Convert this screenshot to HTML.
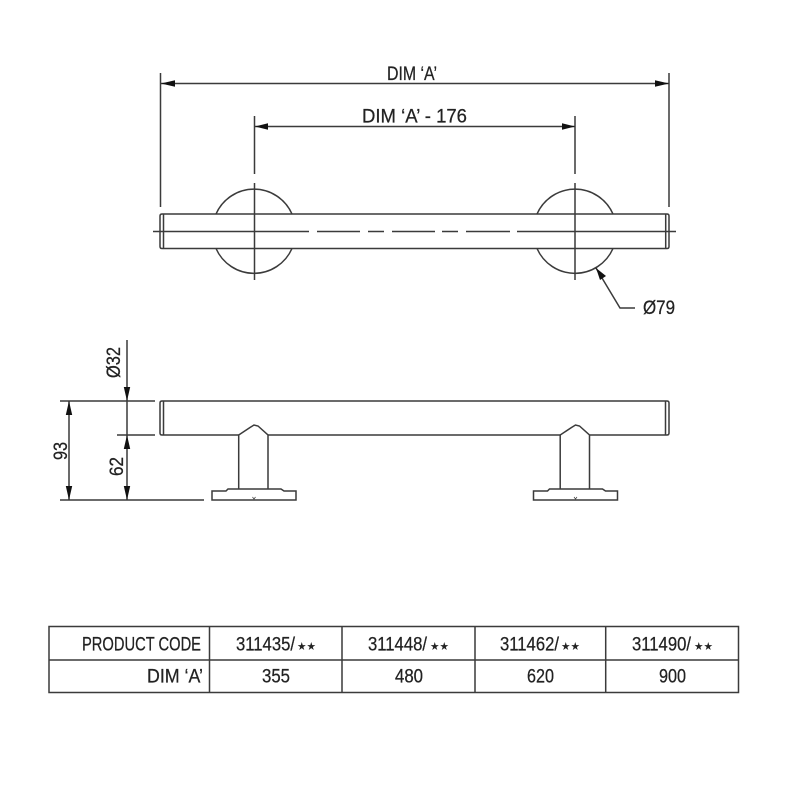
<!DOCTYPE html>
<html>
<head>
<meta charset="utf-8">
<style>
html,body{margin:0;padding:0;background:#fff;}
svg{display:block;}
text{font-family:"Liberation Sans",sans-serif;font-size:19px;fill:#222;stroke:#222;stroke-width:0.25;}
text.s{font-family:"DejaVu Sans",sans-serif;font-size:11px;stroke:none;fill:#222;}
.l{fill:none;stroke:#3a3a3a;stroke-width:1.5;}
.a{fill:#111;stroke:none;}
</style>
</head>
<body>
<svg width="800" height="800" viewBox="0 0 800 800" xmlns="http://www.w3.org/2000/svg">
<defs><filter id="b" x="-5%" y="-5%" width="110%" height="110%"><feGaussianBlur stdDeviation="0.3"/></filter></defs>
<g filter="url(#b)">
<!-- top dimensions -->
<g class="l">
<path d="M160.500 73V207M669 73V207M254.500 116V174M575 116V174"/>
<path d="M161 83.500H669M255 126.500H575"/>
<!-- top view -->
<path d="M162 214H667Q669 214 669 216V246.500Q669 248.500 667 248.500H162Q160 248.500 160 246.500V216Q160 214 162 214Z"/>
<path d="M163.500 214V248.500M665.700 214V248.500"/>
<path d="M153 231.500H309M317 231.500H360M368 231.500H384M392 231.500H435M442 231.500H458M466 231.500H510M517 231.500H676"/>
<path d="M254.500 183V280M575 183V280"/>
<path d="M216 214A41.500 41.500 0 0 1 292 214M216 248.500A41.500 41.500 0 0 0 292 248.500"/>
<path d="M537 214A41.500 41.500 0 0 1 613 214M537 248.500A41.500 41.500 0 0 0 613 248.500"/>
<path d="M596 268L620 308H635"/>
<!-- side view -->
<path d="M238.700 435H162Q160 435 160 433V403Q160 401 162 401H667Q669 401 669 403V433Q669 435 667 435H590"/>
<path d="M268 435H560.700"/>
<path d="M163.500 401V435M665.500 401V435"/>
<path d="M60 401H155M117 435H155M60 500H204"/>
<path d="M69 401V500M127 340V500"/>
<path d="M238.700 489V435L250 427.500L254 425L258 426L268 435V489"/>
<path d="M212 500V491H226L228 489H281L284 491H296V500Z"/>
<path d="M252.500 497L254 499L255.500 497" stroke-width="0.7"/>
<g transform="translate(321.500 0)">
<path d="M238.700 489V435L250 427.500L254 425L258 426L268 435V489"/>
<path d="M212 500V491H226L228 489H281L284 491H296V500Z"/>
<path d="M252.500 497L254 499L255.500 497" stroke-width="0.7"/>
</g>
<!-- table -->
<path d="M49 626.500H738.500V692.500H49ZM49 660H738.500M209.500 626.500V692.500M342 626.500V692.500M475 626.500V692.500M605.700 626.500V692.500"/>
</g>
</g>
<!-- arrowheads -->
<path class="a" d="M161 83.500L175 80.300V86.700Z"/>
<path class="a" d="M669 83.500L655 80.300V86.700Z"/>
<path class="a" d="M255 126.500L268 123.300V129.700Z"/>
<path class="a" d="M575 126.500L562 123.300V129.700Z"/>
<path class="a" d="M596 268L606 276L600 280Z"/>
<path class="a" d="M127 401L123.800 387H130.200Z"/>
<path class="a" d="M127 435L123.800 449H130.200Z"/>
<path class="a" d="M127 500L123.800 486H130.200Z"/>
<path class="a" d="M69 401L65.800 415H72.200Z"/>
<path class="a" d="M69 500L65.800 486H72.200Z"/>
<!-- labels -->
<text x="387" y="80" textLength="50" lengthAdjust="spacingAndGlyphs">DIM ‘A’</text>
<text x="362" y="122.500" textLength="105" lengthAdjust="spacingAndGlyphs">DIM ‘A’ - 176</text>
<text x="643" y="314" textLength="32" lengthAdjust="spacingAndGlyphs">Ø79</text>
<text transform="translate(120 378) rotate(-90)" textLength="31" lengthAdjust="spacingAndGlyphs">Ø32</text>
<text transform="translate(67 460) rotate(-90)" textLength="18" lengthAdjust="spacingAndGlyphs">93</text>
<text transform="translate(123 476) rotate(-90)" textLength="19" lengthAdjust="spacingAndGlyphs">62</text>
<text x="82" y="650.500" textLength="119" lengthAdjust="spacingAndGlyphs">PRODUCT CODE</text>
<text x="147" y="682.500" textLength="56" lengthAdjust="spacingAndGlyphs">DIM ‘A’</text>
<text x="236" y="650.500" textLength="59" lengthAdjust="spacingAndGlyphs">311435/</text>
<text class="s" x="297" y="650" textLength="19" lengthAdjust="spacingAndGlyphs">★★</text>
<text x="368" y="650.500" textLength="59" lengthAdjust="spacingAndGlyphs">311448/</text>
<text class="s" x="430" y="650" textLength="19" lengthAdjust="spacingAndGlyphs">★★</text>
<text x="500" y="650.500" textLength="59" lengthAdjust="spacingAndGlyphs">311462/</text>
<text class="s" x="561" y="650" textLength="19" lengthAdjust="spacingAndGlyphs">★★</text>
<text x="632" y="650.500" textLength="59" lengthAdjust="spacingAndGlyphs">311490/</text>
<text class="s" x="694" y="650" textLength="19" lengthAdjust="spacingAndGlyphs">★★</text>
<text x="262" y="682.500" textLength="28" lengthAdjust="spacingAndGlyphs">355</text>
<text x="395" y="682.500" textLength="28" lengthAdjust="spacingAndGlyphs">480</text>
<text x="527" y="682.500" textLength="27" lengthAdjust="spacingAndGlyphs">620</text>
<text x="659" y="682.500" textLength="27" lengthAdjust="spacingAndGlyphs">900</text>
</svg>
</body>
</html>
